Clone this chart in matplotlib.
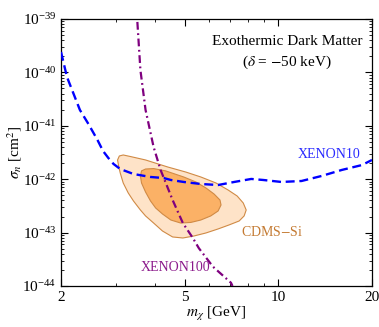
import numpy as np
import matplotlib
matplotlib.use("Agg")
import matplotlib.pyplot as plt
from matplotlib.ticker import FixedLocator, FixedFormatter, NullFormatter, LogFormatterSciNotation

plt.rcParams['font.family'] = ['Liberation Serif', 'DejaVu Serif']
plt.rcParams['mathtext.fontset'] = 'stix'

# XENON10 limit (blue dashed)
x10_mass = [2.00, 2.09, 2.30, 2.45, 2.62, 2.73, 2.84, 2.95, 3.10, 3.42, 3.88, 4.28, 4.51,
            4.96, 5.63, 6.40, 7.21, 8.18, 8.94, 10.23, 11.87, 13.78, 16.0, 18.57, 20.0]
x10_sigma = [2.41e-40, 8.2e-41, 1.98e-41, 1.08e-41, 5.42e-42, 3.37e-42, 2.49e-42, 1.93e-42,
             1.55e-42, 1.25e-42, 1.10e-42, 1.05e-42, 9.66e-43, 8.87e-43, 8.13e-43, 7.78e-43,
             8.87e-43, 1.01e-42, 9.66e-43, 8.87e-43, 9.25e-43, 1.15e-42, 1.49e-42, 1.84e-42,
             2.29e-42]

# XENON100 limit (purple dash-dot)
x100_mass = [3.52, 3.60, 3.74, 3.97, 4.18, 4.57, 4.93, 5.31, 5.55, 6.16, 7.04, 7.12]
x100_sigma = [8.8e-40, 1.11e-40, 1.98e-41, 4.0e-42, 1.49e-42, 4.07e-43, 1.51e-43,
              7.9e-44, 5.1e-44, 2.3e-44, 1.15e-44, 1.0e-44]

# CDMS-Si regions (outer and inner contour)
cdms_out_mass = [3.06, 3.04, 3.08, 3.17, 3.34, 3.74, 4.41, 5.04, 5.63, 6.30, 6.89, 7.37,
                 7.71, 7.88, 7.76, 7.48, 6.94, 6.40, 5.85, 5.35, 4.93, 4.57, 4.24, 3.97,
                 3.74, 3.60, 3.42, 3.29, 3.17, 3.10]
cdms_out_sigma = [1.84e-42, 2.29e-42, 2.72e-42, 2.84e-42, 2.66e-42, 2.29e-42, 1.69e-42,
                  1.36e-42, 1.10e-42, 8.49e-43, 6.28e-43, 4.84e-43, 3.58e-43, 2.65e-43,
                  2.05e-43, 1.65e-43, 1.39e-43, 1.17e-43, 9.84e-44, 8.63e-44, 7.92e-44,
                  8.28e-44, 1.07e-43, 1.51e-43, 2.05e-43, 2.65e-43, 3.91e-43, 5.52e-43,
                  8.49e-43, 1.31e-42]
cdms_in_mass = [3.60, 3.63, 3.74, 3.97, 4.34, 4.96, 5.43, 5.85, 6.21, 6.49, 6.54, 6.40,
                6.06, 5.63, 5.23, 4.85, 4.51, 4.24, 4.03, 3.88, 3.74, 3.63]
cdms_in_sigma = [1.15e-42, 1.43e-42, 1.55e-42, 1.58e-42, 1.43e-42, 1.10e-42, 8.87e-43,
                 6.84e-43, 5.28e-43, 4.07e-43, 3.29e-43, 2.54e-43, 2.05e-43, 1.72e-43,
                 1.55e-43, 1.51e-43, 1.72e-43, 2.23e-43, 2.89e-43, 3.91e-43, 5.75e-43,
                 8.49e-43]

fig = plt.figure(figsize=(3.79, 3.27), dpi=100)
ax = fig.add_axes([0.161, 0.1254, 0.8205, 0.8166])
ax.set_xscale('log')
ax.set_yscale('log')

ax.fill(cdms_out_mass, cdms_out_sigma, facecolor='#fee3c8', edgecolor='#d08a45',
        lw=0.8, joinstyle='round', zorder=1)
ax.fill(cdms_in_mass, cdms_in_sigma, facecolor='#fbb166', edgecolor='#d08a45',
        lw=0.8, joinstyle='round', zorder=2)

ax.plot(x10_mass, x10_sigma, color='#0000ff', lw=1.7, dashes=(3.8, 2.0), zorder=3)
ax.plot(x100_mass, x100_sigma, color='#7f007f', lw=1.6, dashes=(3.5, 1.6, 0.8, 1.6), zorder=3)

ax.text(18.3, 2.84e-42, 'XENON10', color='#2a2aff', fontsize=10, ha='right', va='center')
ax.text(4.67, 2.2e-44, 'XENON100', color='#8b1a8b', fontsize=10, ha='center', va='center')
ax.text(7.58, 1.02e-43, 'CDMS$-$Si', color='#c47a32', fontsize=10, ha='left', va='center')

ax.text(0.727, 0.914, 'Exothermic Dark Matter', transform=ax.transAxes,
        fontsize=11, ha='center', va='center')
ax.text(0.727, 0.839, r'($\delta$ = $-$50 keV)', transform=ax.transAxes,
        fontsize=11, ha='center', va='center')

ax.set_xlim(2, 20)
ax.set_ylim(1e-44, 1e-39)
ax.xaxis.set_major_locator(FixedLocator([2, 5, 10, 20]))
ax.xaxis.set_minor_locator(FixedLocator([3, 4, 6, 7, 8, 9]))
ax.xaxis.set_major_formatter(FixedFormatter(['2', '5', '10', '20']))
ax.xaxis.set_minor_formatter(NullFormatter())

ydec = [1e-44, 1e-43, 1e-42, 1e-41, 1e-40, 1e-39]
yminor = [m * d for d in ydec[:-1] for m in range(2, 10)]
ax.yaxis.set_major_locator(FixedLocator(ydec))
ax.yaxis.set_minor_locator(FixedLocator(yminor))
ax.yaxis.set_major_formatter(LogFormatterSciNotation())
ax.yaxis.set_minor_formatter(NullFormatter())

ax.tick_params(which='both', direction='in', top=True, right=True, labelsize=11)
ax.tick_params(which='major', length=5, width=0.8)
ax.tick_params(which='minor', length=2.5, width=0.6)
for s in ax.spines.values():
    s.set_linewidth(0.9)

ax.set_xlabel(r'$m_\chi$ [GeV]', fontsize=11, labelpad=1)
ax.set_ylabel(r'$\sigma_n$ [cm$^2$]', fontsize=11, labelpad=-1)

fig.savefig('out.png', dpi=100)
